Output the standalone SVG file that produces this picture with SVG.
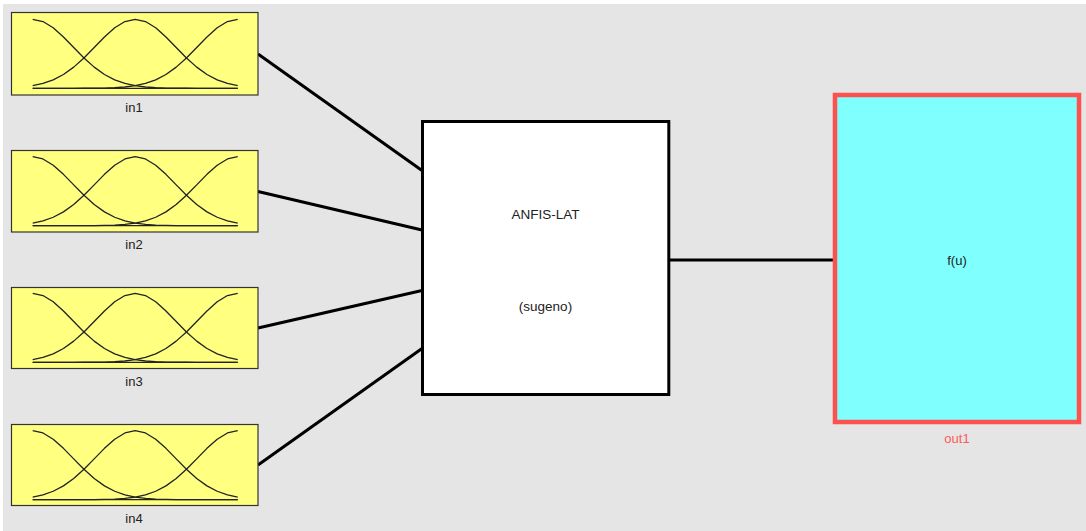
<svg xmlns="http://www.w3.org/2000/svg" xmlns:xlink="http://www.w3.org/1999/xlink" width="1086" height="531" viewBox="0 0 1086 531">
<style>
.bg{fill:#e5e5e5}
.inbox{fill:#ffff80;stroke:#333;stroke-width:1.2}
.mfc{fill:none;stroke:#222;stroke-width:1.3;stroke-linejoin:round}
.lbl{font-family:"Liberation Sans",Arial,sans-serif;font-size:13px;fill:#222;text-anchor:middle}
.conn{stroke:#000;stroke-width:3;fill:none}
.fis{fill:#fff;stroke:#000;stroke-width:3}
.out{fill:#80ffff;stroke:#ff5050;stroke-width:4.5}
.outlbl{font-family:"Liberation Sans",Arial,sans-serif;font-size:13px;fill:#ff5a5a;text-anchor:middle}
</style>
<defs>
<g id="mf">
<polyline class="mfc" points="0,0 10.25,2.23 20.5,8.49 30.75,17.65 41,28.19 51.25,38.63 61.5,47.84 71.75,55.19 82,60.56 92.25,64.17 102.5,66.41 112.75,67.7 123,68.39 133.25,68.73 143.5,68.89 153.75,68.96 164,68.98 174.25,69 184.5,69 194.75,69 205,69"/>
<polyline class="mfc" points="205,0 194.75,2.23 184.5,8.49 174.25,17.65 164,28.19 153.75,38.63 143.5,47.84 133.25,55.19 123,60.56 112.75,64.17 102.5,66.41 92.25,67.7 82,68.39 71.75,68.73 61.5,68.89 51.25,68.96 41,68.98 30.75,69 20.5,69 10.25,69 0,69"/>
<polyline class="mfc" points="0,66.41 10.25,64.17 20.5,60.56 30.75,55.19 41,47.84 51.25,38.63 61.5,28.19 71.75,17.65 82,8.49 92.25,2.23 102.5,0 112.75,2.23 123,8.49 133.25,17.65 143.5,28.19 153.75,38.63 164,47.84 174.25,55.19 184.5,60.56 194.75,64.17 205,66.41"/>
<line class="mfc" x1="0" y1="69" x2="205" y2="69"/>
</g>
</defs>
<rect x="0" y="0" width="1086" height="531" fill="#ffffff"/>
<rect class="bg" x="3" y="4" width="1083" height="527"/>
<g id="connectors">
<line class="conn" x1="258" y1="54" x2="422" y2="170.5"/>
<line class="conn" x1="258" y1="191.5" x2="422" y2="230"/>
<line class="conn" x1="258" y1="328" x2="422" y2="290.5"/>
<line class="conn" x1="258" y1="465" x2="422" y2="348.5"/>
<line class="conn" x1="669" y1="260" x2="834" y2="260"/>
</g>
<g id="in1">
<rect class="inbox" x="11.5" y="12.5" width="246.5" height="82.5"/>
<use xlink:href="#mf" href="#mf" transform="translate(32.7,19.3)"/>
<text class="lbl" x="134" y="111.5">in1</text>
</g>
<g id="in2">
<rect class="inbox" x="11.5" y="150.5" width="246.5" height="81.5"/>
<use xlink:href="#mf" href="#mf" transform="translate(32.7,156.7)"/>
<text class="lbl" x="134" y="248.5">in2</text>
</g>
<g id="in3">
<rect class="inbox" x="11.5" y="287.5" width="246.5" height="81"/>
<use xlink:href="#mf" href="#mf" transform="translate(32.7,293.3)"/>
<text class="lbl" x="134" y="385.5">in3</text>
</g>
<g id="in4">
<rect class="inbox" x="11.5" y="424.5" width="246.5" height="81"/>
<use xlink:href="#mf" href="#mf" transform="translate(32.7,430.7)"/>
<text class="lbl" x="134" y="522.5">in4</text>
</g>
<g id="fis">
<rect class="fis" x="422.5" y="121.5" width="246.3" height="273"/>
<text class="lbl" x="545.5" y="218.5" style="font-size:13.5px">ANFIS-LAT</text>
<text class="lbl" x="545.5" y="311" style="font-size:13.5px">(sugeno)</text>
</g>
<g id="out1">
<rect class="out" x="835" y="95" width="244" height="327"/>
<text class="lbl" x="957" y="264.5">f(u)</text>
<text class="outlbl" x="957" y="442.5">out1</text>
</g>
</svg>
